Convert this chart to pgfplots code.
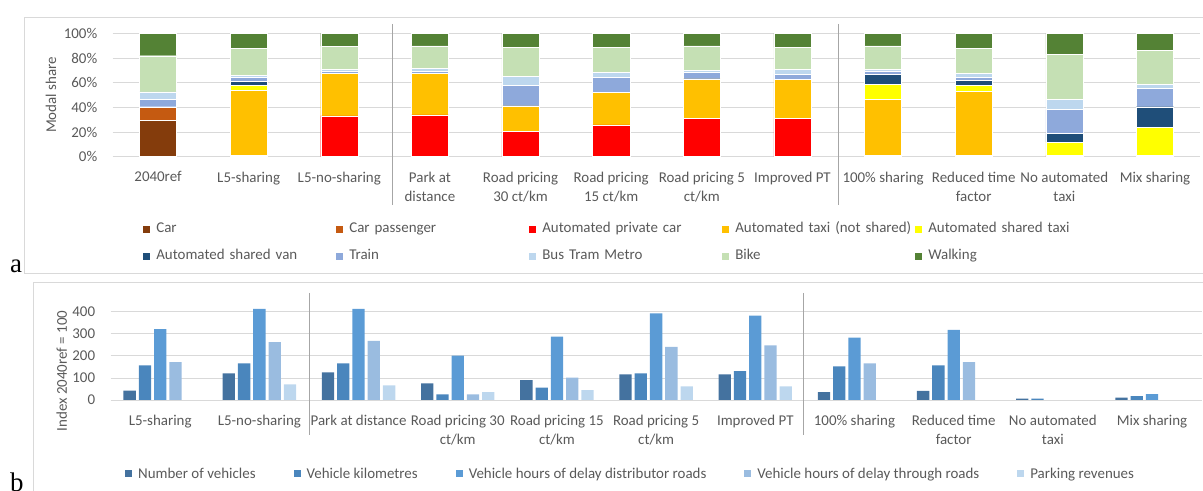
\documentclass[border=0pt]{standalone}
\usepackage{fontspec}
\setmainfont{Carlito}
\newfontfamily\letterfont{Liberation Serif}
\usepackage{pgfplots}
\pgfplotsset{compat=1.18}

\definecolor{txt}{HTML}{595959}
\definecolor{gridc}{HTML}{D9D9D9}
\definecolor{sepc}{HTML}{A6A6A6}
\definecolor{carC}{HTML}{843C0C}
\definecolor{carpC}{HTML}{C55A11}
\definecolor{apcC}{HTML}{FF0000}
\definecolor{taxiC}{HTML}{FFC000}
\definecolor{staxiC}{HTML}{FFFF00}
\definecolor{vanC}{HTML}{1F4E79}
\definecolor{trainC}{HTML}{8EA9DB}
\definecolor{busC}{HTML}{BDD7EE}
\definecolor{bikeC}{HTML}{C5E0B4}
\definecolor{walkC}{HTML}{548235}
\definecolor{nvC}{HTML}{44729F}
\definecolor{vkC}{HTML}{4A86BD}
\definecolor{vhdC}{HTML}{5B9BD5}
\definecolor{vhtC}{HTML}{9ABCE0}
\definecolor{parkC}{HTML}{BDD7EE}

\newcommand\lab{\fontsize{15}{19}\selectfont}

\pgfplotsset{
  common/.style={
    scale only axis,
    anchor=south west,
    axis line style={draw=none},
    major tick length=0pt,
    ymajorgrids,
    grid style={draw=gridc, line width=0.8bp},
    tick label style={font=\lab, text=txt},
    xticklabel style={align=center, yshift=-11.5bp},
    yticklabel style={xshift=-12bp},
    /pgf/number format/assume math mode=true,
  },
  squares/.style={
    legend image code/.code={\fill[##1, draw=none] (0bp,-3.5bp) rectangle (7bp,3.5bp);},
  },
}

\begin{document}
\begin{tikzpicture}[x=1bp, y=1bp]
\useasboundingbox (0,0) rectangle (1203,491);

% panel frames
\draw[gridc, line width=0.8bp] (24.5,218) rectangle (1215,474);
\draw[gridc, line width=0.8bp] (33,-10) rectangle (1215,208.3);

% ---- a: modal share ----
\begin{axis}[common,
  at={(112.7bp,334.3bp)},
  width=1087.6bp, height=123.4bp,
  ybar stacked, bar width=0.41, squares,
  xmin=-0.5, xmax=11.5, ymin=0, ymax=100,
  xtick={0,...,11},
  xticklabels={2040ref, L5-sharing, L5-no-sharing, Park at\\distance,
    Road pricing\\30 ct/km, Road pricing\\15 ct/km, Road pricing 5\\ct/km,
    Improved PT, 100\% sharing, Reduced time\\factor, No automated\\taxi, Mix sharing},
  ytick={0,20,...,100},
  yticklabel={\pgfmathprintnumber{\tick}\%},
  ylabel={Modal share},
  every axis y label/.style={at={(axis description cs:-0.0567,0.5)}, rotate=90, anchor=center, font=\lab, text=txt},
  legend columns=5,
  legend style={at={(axis description cs:0.0252,-0.699)}, anchor=west,
    draw=none, fill=none, font=\lab, text=txt,
    nodes={text width=176bp, inner xsep=0bp, inner ysep=3bp, text height=10bp, text depth=3.5bp},
    row sep=8bp,
    /tikz/every odd column/.append style={column sep=6bp},
    /tikz/every even column/.append style={column sep=4bp}},
  every axis plot/.append style={draw=white, line width=0.4bp},
]
\addplot[fill=carC] coordinates {(0,29.2) (1,0) (2,0) (3,0) (4,0) (5,0) (6,0) (7,0) (8,0) (9,0) (10,0) (11,0)};
\addplot[fill=carpC] coordinates {(0,11.3) (1,0) (2,0) (3,0) (4,0) (5,0) (6,0) (7,0) (8,0) (9,0) (10,0) (11,0)};
\addplot[fill=apcC] coordinates {(0,0) (1,1) (2,33) (3,33.8) (4,20.3) (5,25.7) (6,30.8) (7,30.8) (8,1) (9,1) (10,1) (11,1)};
\addplot[fill=taxiC] coordinates {(0,0) (1,52.5) (2,34.6) (3,33.8) (4,20.8) (5,26.5) (6,32.2) (7,31.6) (8,45.2) (9,51.7) (10,0) (11,0)};
\addplot[fill=staxiC] coordinates {(0,0) (1,4.3) (2,0) (3,0) (4,0) (5,0) (6,0) (7,0) (8,12.7) (9,5.1) (10,10.9) (11,22.8)};
\addplot[fill=vanC] coordinates {(0,0) (1,3.5) (2,0) (3,0) (4,0) (5,0) (6,0) (7,0) (8,8.1) (9,4.3) (10,6.8) (11,16.7)};
\addplot[fill=trainC] coordinates {(0,6.2) (1,3.2) (2,1.6) (3,1.6) (4,16.8) (5,11.9) (6,5.1) (7,4.6) (8,1.9) (9,2.4) (10,19.5) (11,14.9)};
\addplot[fill=busC] coordinates {(0,5.9) (1,1.6) (2,1.6) (3,2.4) (4,7.0) (5,4.1) (6,1.6) (7,3.8) (8,1.9) (9,3.0) (10,8.1) (11,3.5)};
\addplot[fill=bikeC] coordinates {(0,29.2) (1,21.6) (2,18.7) (3,18.1) (4,23.7) (5,20.5) (6,20.0) (7,17.8) (8,18.9) (9,20.2) (10,36.8) (11,27.1)};
\addplot[fill=walkC] coordinates {(0,18.2) (1,12.3) (2,10.5) (3,10.3) (4,11.4) (5,11.3) (6,10.3) (7,11.4) (8,10.3) (9,12.3) (10,16.9) (11,14.0)};
\legend{Car, Car passenger, Automated private car, Automated taxi (not shared), Automated shared taxi,
  Automated shared van, Train, Bus Tram Metro, Bike, Walking}
\end{axis}

% ---- b: index values ----
\begin{axis}[common,
  at={(110.6bp,91bp)},
  width=1091bp, height=99.4bp,
  ybar, bar width=0.124, squares,
  xmin=-0.5, xmax=10.5, ymin=0, ymax=450,
  xtick={0,...,10},
  xticklabels={L5-sharing, L5-no-sharing, Park at distance, Road pricing 30\\ct/km,
    Road pricing 15\\ct/km, Road pricing 5\\ct/km, Improved PT, 100\% sharing,
    Reduced time\\factor, No automated\\taxi, Mix sharing},
  ytick={0,100,...,400},
  legend columns=5,
  legend style={at={(axis description cs:0.0104,-0.744)}, anchor=west,
    draw=none, fill=none, font=\lab, text=txt,
    nodes={inner xsep=0bp, inner ysep=3bp},
    /tikz/every odd column/.append style={column sep=6bp},
    /tikz/every even column/.append style={column sep=38bp}},
  every axis plot/.append style={draw=none},
]
\addplot[fill=nvC, bar shift=-0.308] coordinates {(0,42) (1,121) (2,125) (3,75) (4,90) (5,116) (6,116) (7,36) (8,41) (9,6) (10,11)};
\addplot[fill=vkC, bar shift=-0.154] coordinates {(0,157) (1,166) (2,166) (3,26) (4,56) (5,121) (6,131) (7,152) (8,157) (9,6) (10,17)};
\addplot[fill=vhdC, bar shift=0] coordinates {(0,321) (1,412) (2,412) (3,201) (4,287) (5,392) (6,382) (7,282) (8,317) (10,27)};
\addplot[fill=vhtC, bar shift=0.154] coordinates {(0,172) (1,262) (2,268) (3,26) (4,101) (5,241) (6,247) (7,166) (8,172)};
\addplot[fill=parkC, bar shift=0.308] coordinates {(1,71) (2,66) (3,36) (4,45) (5,62) (6,62)};
\legend{Number of vehicles, Vehicle kilometres, Vehicle hours of delay distributor roads,
  Vehicle hours of delay through roads, Parking revenues}
\end{axis}
\node[rotate=90, font=\lab, text=txt, inner sep=0pt] at (61.7,120) {Index 2040ref = 100};

% group separators
\draw[sepc, line width=0.8bp] (392.3,467) -- (392.3,286);
\draw[sepc, line width=0.8bp] (838,467) -- (838,286);
\draw[sepc, line width=0.8bp] (309.3,198) -- (309.3,56);
\draw[sepc, line width=0.8bp] (803.5,198) -- (803.5,56);

% panel letters
\node[anchor=base west, inner sep=0pt] at (10,218) {\letterfont\fontsize{27}{27}\selectfont a};
\node[anchor=base west, inner sep=0pt] at (10,-1) {\letterfont\fontsize{27}{27}\selectfont b};
\end{tikzpicture}
\end{document}
